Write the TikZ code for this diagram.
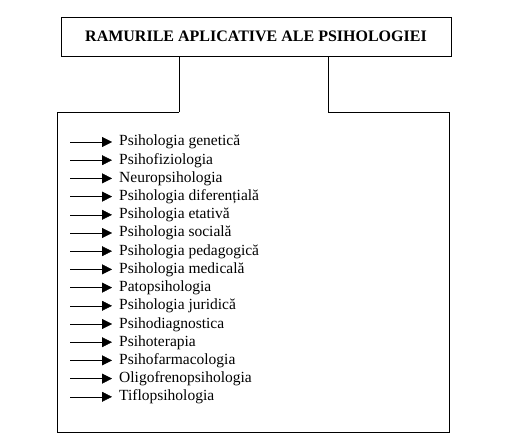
\documentclass[tikz,border=0pt]{standalone}
\usepackage{fontspec}
\setmainfont{Liberation Serif}
\usetikzlibrary{arrows.meta,positioning,calc}

\begin{document}
\begin{tikzpicture}[x=1pt,y=-1pt,font=\fontsize{15.5}{18}\selectfont,
      title/.style={draw,semithick,minimum width=390pt,minimum height=39pt,
        font=\fontsize{16}{19}\selectfont\bfseries},
      item/.style={anchor=base west,inner sep=0pt},
      arr/.style={-{Triangle[length=10pt,width=10pt]},shorten >=7pt}]
    \useasboundingbox (0,0) rectangle (527,446);
    \node[title](t) at (256,36.5){RAMURILE APLICATIVE ALE PSIHOLOGIEI};
    \coordinate (la) at (179,112); \coordinate (ra) at (328,112);
    \draw[semithick] (t.south -| la) -- (la);
    \draw[semithick] (t.south -| ra) -- (ra);
    % open box below the title
    \draw[semithick] (la) -- (57,112) -- (57,432) -- (449,432) -- (449,112) -- (ra);
    \foreach \t [count=\i] in {Psihologia genetică,Psihofiziologia,Neuropsihologia,
        Psihologia diferențială,Psihologia etativă,Psihologia socială,
        Psihologia pedagogică,Psihologia medicală,Patopsihologia,
        Psihologia juridică,Psihodiagnostica,Psihoterapia,Psihofarmacologia,
        Oligofrenopsihologia,Tiflopsihologia}{
      \node[item](i\i) at (119,{146+18.2*(\i-1)}){\t};
      \coordinate (s\i) at (70,{142+18.2*(\i-1)});
      \draw[arr] (s\i) -- (s\i -| i\i.west);}
  \end{tikzpicture}
\end{document}
